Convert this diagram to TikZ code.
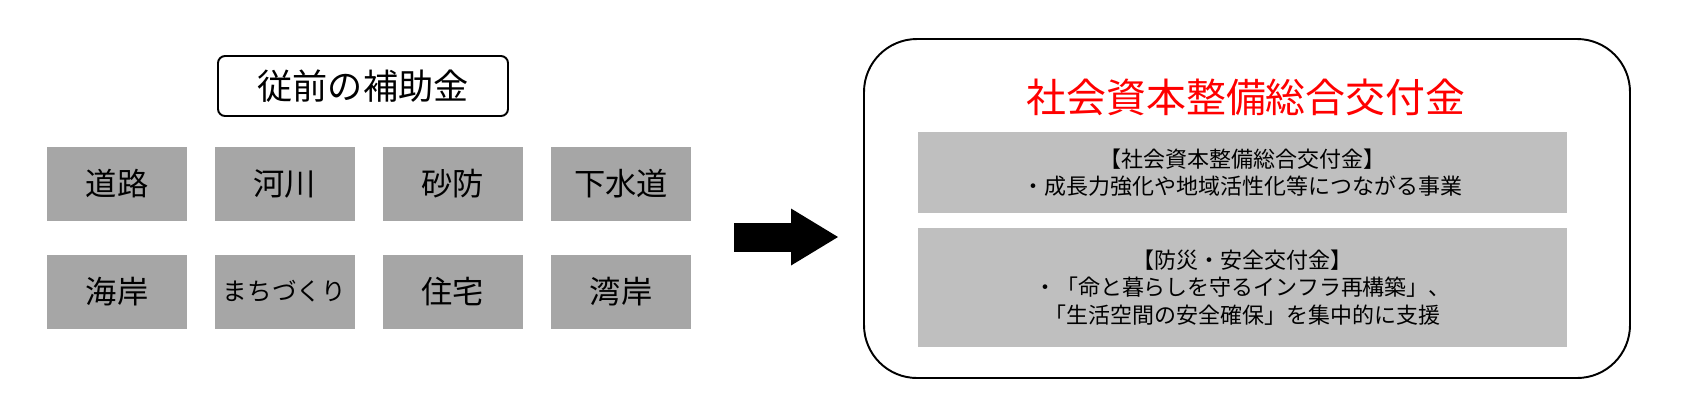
\documentclass[tikz,border=0pt]{standalone}
\usepackage{fontspec}
\newfontfamily\jafont{Noto Sans CJK JP}
\usepackage{xcolor}
\definecolor{oldboxfill}{rgb}{0.65,0.65,0.65}
\definecolor{newboxfill}{rgb}{0.75,0.75,0.75}
\definecolor{newtitledraw}{rgb}{1.00,0.00,0.00}
\definecolor{framedraw}{rgb}{0.00,0.00,0.00}
\usepackage{tikz}
\usetikzlibrary{arrows.meta}

\begin{document}
\begin{tikzpicture}[
  every node/.style={align=center, inner sep=2pt, font=\jafont},
  headbox/.style  ={rectangle, rounded corners=4pt, draw=framedraw, line width=1.1pt, fill=white, minimum width=58mm, minimum height=12mm, font=\jafont\fontsize{20}{24}\selectfont},
  oldbox/.style   ={rectangle, fill=oldboxfill, minimum width=28mm, minimum height=14.8mm, font=\jafont\fontsize{17.8}{21}\selectfont},
  framebox/.style ={rectangle, rounded corners=10.6mm, draw=framedraw, line width=1.1pt, minimum width=153.2mm, minimum height=67.8mm},
  newbox/.style   ={rectangle, fill=newboxfill, minimum width=129.8mm, font=\jafont\fontsize{12.5}{15.5}\selectfont},
  shiftarrow/.style={-{Triangle[length=9.4mm, width=11.4mm, line width=0pt]}, line width=5.8mm, draw=framedraw}
]
\useasboundingbox (0,0) rectangle (33.68,-8.1);

% left half: the former subsidies
\node[headbox] (oldhead) at (7.26, -1.72) {従前の補助金};

\node[oldbox] (road)   at ( 2.34, -3.68) {道路};
\node[oldbox] (river)  at ( 5.69, -3.68) {河川};
\node[oldbox] (sabo)   at ( 9.05, -3.68) {砂防};
\node[oldbox] (sewer)  at (12.42, -3.68) {下水道};
\node[oldbox] (coast)  at ( 2.34, -5.83) {海岸};
\node[oldbox, font=\jafont\fontsize{14}{17}\selectfont] (town) at ( 5.69, -5.83) {まちづくり};
\node[oldbox] (house)  at ( 9.05, -5.83) {住宅};
\node[oldbox] (harbor) at (12.42, -5.83) {湾岸};

% right half: the new grant
\node[framebox] (frame) at (24.94, -4.17) {};
\node[text=newtitledraw, font=\jafont\fontsize{22.7}{27}\selectfont] (newhead) at (24.92, -1.94) {社会資本整備総合交付金};

\node[newbox, minimum height=16.2mm] (grant) at (24.85, -3.45)
   {【社会資本整備総合交付金】\\・成長力強化や地域活性化等につながる事業};
\node[newbox, minimum height=23.8mm] (safety) at (24.85, -5.75)
   {【防災・安全交付金】\\・「命と暮らしを守るインフラ再構築」、\\「生活空間の安全確保」を集中的に支援};

\coordinate (arrowfrom) at (14.68, -4.74);
\coordinate (arrowto)   at (16.76, -4.74);
\draw[shiftarrow] (arrowfrom) -- (arrowto);

\end{tikzpicture}
\end{document}
